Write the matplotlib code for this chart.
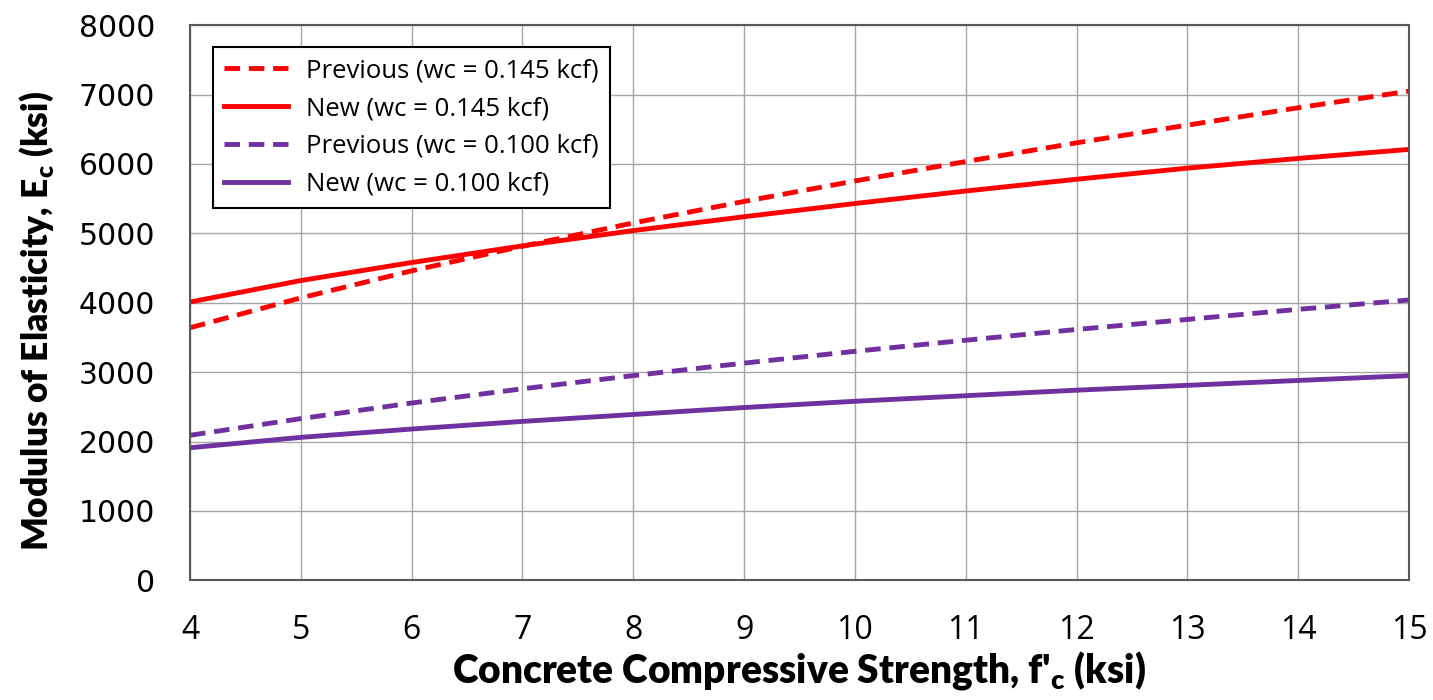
import matplotlib
matplotlib.use('Agg')
import matplotlib.pyplot as plt
from matplotlib.ticker import MultipleLocator

# compressive strength f'c (ksi)
fc = [4, 5, 6, 7, 8, 9, 10, 11, 12, 13, 14, 15]

# modulus of elasticity Ec (ksi)
prev_145 = [3640, 4070, 4460, 4815, 5150, 5460, 5755, 6035, 6305, 6560, 6810, 7050]
new_145 = [4010, 4320, 4580, 4820, 5040, 5240, 5430, 5610, 5780, 5940, 6080, 6210]
prev_100 = [2090, 2330, 2555, 2760, 2950, 3130, 3300, 3460, 3615, 3760, 3905, 4040]
new_100 = [1910, 2060, 2180, 2290, 2390, 2490, 2580, 2660, 2740, 2810, 2880, 2950]

labels = ['Previous (wc = 0.145 kcf)', 'New (wc = 0.145 kcf)',
          'Previous (wc = 0.100 kcf)', 'New (wc = 0.100 kcf)']

red = '#ff0000'
purple = '#7030a0'

fig = plt.figure(figsize=(14.33, 7), dpi=100)
ax = fig.add_axes([0.1326, 0.171, 0.8507, 0.793])

ax.plot(fc, prev_145, color=red, lw=3.5, ls=(0, (3.2, 1.8)), label=labels[0])
ax.plot(fc, new_145, color=red, lw=3.5, label=labels[1])
ax.plot(fc, prev_100, color=purple, lw=3.5, ls=(0, (3.2, 1.8)), label=labels[2])
ax.plot(fc, new_100, color=purple, lw=3.5, label=labels[3])

ax.set_xlim(4, 15)
ax.set_ylim(0, 8000)
ax.xaxis.set_major_locator(MultipleLocator(1))
ax.yaxis.set_major_locator(MultipleLocator(1000))
ax.grid(True, color='#a6a6a6', lw=1)
ax.set_axisbelow(True)
for s in ax.spines.values():
    s.set_color('#595959')
    s.set_linewidth(1.5)
ax.tick_params(axis='x', length=0, pad=24)
ax.tick_params(axis='y', length=0, pad=25)

for t in ax.get_xticklabels():
    t.set_family(['Open Sans', 'DejaVu Sans'])
    t.set_fontsize(23)
for t in ax.get_yticklabels():
    t.set_family(['DejaVu Sans'])
    t.set_fontsize(21.5)

lab_font = dict(family=['Lato', 'DejaVu Sans'], fontsize=28, fontweight='heavy')
ax.set_xlabel("Concrete Compressive Strength, f'$_\\mathregular{c}$ (ksi)", labelpad=2, **lab_font)
ax.set_ylabel("Modulus of Elasticity, E$_\\mathregular{c}$ (ksi)", **lab_font)
ax.yaxis.label.set_fontsize(25.5)
ax.yaxis.set_label_coords(-0.11, 0.467)

leg = ax.legend(loc='upper left', bbox_to_anchor=(0.019, 0.96), borderaxespad=0,
                fancybox=False, edgecolor='black', framealpha=1, handlelength=2.5,
                prop={'family': ['Open Sans', 'DejaVu Sans'], 'size': 18.5},
                borderpad=0.42, labelspacing=0.5, handletextpad=0.7)
leg.get_frame().set_linewidth(1.5)

fig.savefig('out.png', dpi=100)
